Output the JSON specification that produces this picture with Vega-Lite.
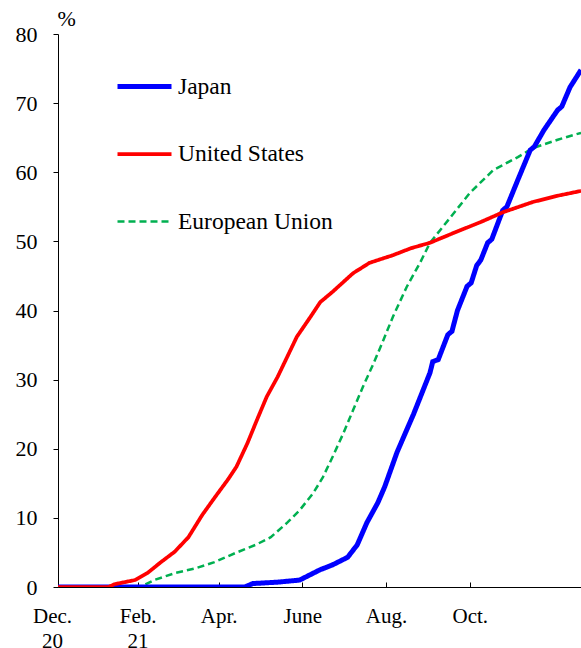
{
  "$schema": "https://vega.github.io/schema/vega-lite/v6.json",
  "width": 523,
  "height": 553,
  "autosize": {"type": "none"},
  "padding": {"left": 58, "top": 34, "right": 0, "bottom": 61},
  "background": "white",
  "config": {"view": {"stroke": null}, "font": "Liberation Serif, Times New Roman, serif"},
  "data": {"values": [
    {"series": "European Union", "date": "2020-12-05", "value": 0},
    {"series": "European Union", "date": "2021-02-03", "value": 0},
    {"series": "European Union", "date": "2021-02-13", "value": 1.0},
    {"series": "European Union", "date": "2021-02-28", "value": 2.0},
    {"series": "European Union", "date": "2021-03-15", "value": 2.7},
    {"series": "European Union", "date": "2021-03-29", "value": 3.6},
    {"series": "European Union", "date": "2021-04-13", "value": 4.9},
    {"series": "European Union", "date": "2021-04-28", "value": 6.1},
    {"series": "European Union", "date": "2021-05-09", "value": 7.2},
    {"series": "European Union", "date": "2021-05-21", "value": 9.3},
    {"series": "European Union", "date": "2021-05-30", "value": 11.1},
    {"series": "European Union", "date": "2021-06-09", "value": 13.6},
    {"series": "European Union", "date": "2021-06-16", "value": 15.9},
    {"series": "European Union", "date": "2021-06-23", "value": 18.8},
    {"series": "European Union", "date": "2021-07-01", "value": 22.3},
    {"series": "European Union", "date": "2021-07-08", "value": 25.6},
    {"series": "European Union", "date": "2021-07-15", "value": 28.9},
    {"series": "European Union", "date": "2021-07-23", "value": 32.4},
    {"series": "European Union", "date": "2021-07-30", "value": 35.7},
    {"series": "European Union", "date": "2021-08-06", "value": 39.1},
    {"series": "European Union", "date": "2021-08-16", "value": 43.4},
    {"series": "European Union", "date": "2021-08-26", "value": 47.0},
    {"series": "European Union", "date": "2021-09-02", "value": 49.8},
    {"series": "European Union", "date": "2021-09-17", "value": 53.5},
    {"series": "European Union", "date": "2021-10-01", "value": 57.0},
    {"series": "European Union", "date": "2021-10-18", "value": 60.3},
    {"series": "European Union", "date": "2021-11-05", "value": 62.2},
    {"series": "European Union", "date": "2021-11-16", "value": 63.5},
    {"series": "European Union", "date": "2021-12-04", "value": 64.7},
    {"series": "European Union", "date": "2021-12-21", "value": 65.7},
    {"series": "Japan", "date": "2020-12-05", "value": 0},
    {"series": "Japan", "date": "2021-04-20", "value": 0},
    {"series": "Japan", "date": "2021-04-26", "value": 0.5},
    {"series": "Japan", "date": "2021-05-14", "value": 0.7},
    {"series": "Japan", "date": "2021-05-30", "value": 1.0},
    {"series": "Japan", "date": "2021-06-14", "value": 2.5},
    {"series": "Japan", "date": "2021-06-23", "value": 3.2},
    {"series": "Japan", "date": "2021-07-04", "value": 4.3},
    {"series": "Japan", "date": "2021-07-11", "value": 6.1},
    {"series": "Japan", "date": "2021-07-18", "value": 9.3},
    {"series": "Japan", "date": "2021-07-26", "value": 12.2},
    {"series": "Japan", "date": "2021-07-31", "value": 14.5},
    {"series": "Japan", "date": "2021-08-09", "value": 19.5},
    {"series": "Japan", "date": "2021-08-21", "value": 25.0},
    {"series": "Japan", "date": "2021-08-26", "value": 27.5},
    {"series": "Japan", "date": "2021-09-02", "value": 31.0},
    {"series": "Japan", "date": "2021-09-04", "value": 32.6},
    {"series": "Japan", "date": "2021-09-08", "value": 32.9},
    {"series": "Japan", "date": "2021-09-15", "value": 36.5},
    {"series": "Japan", "date": "2021-09-18", "value": 37.0},
    {"series": "Japan", "date": "2021-09-22", "value": 40.0},
    {"series": "Japan", "date": "2021-09-29", "value": 43.5},
    {"series": "Japan", "date": "2021-10-02", "value": 44.0},
    {"series": "Japan", "date": "2021-10-06", "value": 46.5},
    {"series": "Japan", "date": "2021-10-09", "value": 47.3},
    {"series": "Japan", "date": "2021-10-14", "value": 49.8},
    {"series": "Japan", "date": "2021-10-17", "value": 50.3},
    {"series": "Japan", "date": "2021-10-25", "value": 54.5},
    {"series": "Japan", "date": "2021-10-28", "value": 55.0},
    {"series": "Japan", "date": "2021-11-05", "value": 58.9},
    {"series": "Japan", "date": "2021-11-14", "value": 63.2},
    {"series": "Japan", "date": "2021-11-17", "value": 63.7},
    {"series": "Japan", "date": "2021-11-24", "value": 66.1},
    {"series": "Japan", "date": "2021-12-04", "value": 69.0},
    {"series": "Japan", "date": "2021-12-07", "value": 69.5},
    {"series": "Japan", "date": "2021-12-13", "value": 72.3},
    {"series": "Japan", "date": "2021-12-21", "value": 74.8},
    {"series": "United States", "date": "2020-12-05", "value": 0},
    {"series": "United States", "date": "2021-01-11", "value": 0},
    {"series": "United States", "date": "2021-01-15", "value": 0.4},
    {"series": "United States", "date": "2021-01-30", "value": 1.0},
    {"series": "United States", "date": "2021-02-08", "value": 2.0},
    {"series": "United States", "date": "2021-02-18", "value": 3.6},
    {"series": "United States", "date": "2021-02-28", "value": 5.1},
    {"series": "United States", "date": "2021-03-10", "value": 7.2},
    {"series": "United States", "date": "2021-03-20", "value": 10.4},
    {"series": "United States", "date": "2021-03-29", "value": 12.9},
    {"series": "United States", "date": "2021-04-08", "value": 15.6},
    {"series": "United States", "date": "2021-04-14", "value": 17.4},
    {"series": "United States", "date": "2021-04-22", "value": 20.8},
    {"series": "United States", "date": "2021-04-29", "value": 24.2},
    {"series": "United States", "date": "2021-05-06", "value": 27.5},
    {"series": "United States", "date": "2021-05-14", "value": 30.4},
    {"series": "United States", "date": "2021-05-21", "value": 33.3},
    {"series": "United States", "date": "2021-05-28", "value": 36.2},
    {"series": "United States", "date": "2021-06-07", "value": 39.1},
    {"series": "United States", "date": "2021-06-14", "value": 41.2},
    {"series": "United States", "date": "2021-06-23", "value": 42.7},
    {"series": "United States", "date": "2021-07-08", "value": 45.4},
    {"series": "United States", "date": "2021-07-20", "value": 46.9},
    {"series": "United States", "date": "2021-08-06", "value": 48.0},
    {"series": "United States", "date": "2021-08-19", "value": 49.0},
    {"series": "United States", "date": "2021-09-02", "value": 49.8},
    {"series": "United States", "date": "2021-09-19", "value": 51.2},
    {"series": "United States", "date": "2021-10-09", "value": 52.8},
    {"series": "United States", "date": "2021-10-25", "value": 54.2},
    {"series": "United States", "date": "2021-11-16", "value": 55.7},
    {"series": "United States", "date": "2021-12-04", "value": 56.6},
    {"series": "United States", "date": "2021-12-21", "value": 57.3}
  ]},
  "mark": {"type": "line", "clip": true},
  "encoding": {
    "x": {
      "field": "date", "type": "temporal",
      "scale": {"domain": [{"year": 2020, "month": 12, "date": 5, "utc": true}, {"year": 2021, "month": 12, "date": 21, "utc": true}], "nice": false},
      "axis": {
        "title": null,
        "values": [
          {"year": 2020, "month": 12, "date": 5, "utc": true},
          {"year": 2021, "month": 2, "date": 1, "utc": true},
          {"year": 2021, "month": 4, "date": 1, "utc": true},
          {"year": 2021, "month": 6, "date": 1, "utc": true},
          {"year": 2021, "month": 8, "date": 1, "utc": true},
          {"year": 2021, "month": 10, "date": 1, "utc": true}
        ],
        "labelExpr": "utcmonth(datum.value) == 11 ? ['Dec.', '20'] : utcmonth(datum.value) == 1 ? ['Feb.', '21'] : utcmonth(datum.value) == 3 ? 'Apr.' : utcmonth(datum.value) == 5 ? 'June' : utcmonth(datum.value) == 7 ? 'Aug.' : 'Oct.'",
        "grid": false,
        "tickSize": -5,
        "tickColor": "black",
        "domainColor": "black",
        "labelColor": "black",
        "labelFont": "Liberation Serif",
        "labelFontSize": 21,
        "labelPadding": 23,
        "labelLineHeight": 25,
        "labelOffset": {"condition": {"test": "utcmonth(datum.value) == 11", "value": -6}, "value": 0},
        "labelFlush": false,
        "labelOverlap": false,
        "labelBound": false
      }
    },
    "y": {
      "field": "value", "type": "quantitative",
      "scale": {"domain": [0, 80], "nice": false},
      "axis": {
        "title": "%",
        "titleAngle": 0,
        "titleX": -1,
        "titleY": -9,
        "titleAlign": "left",
        "titleBaseline": "alphabetic",
        "titleFont": "Liberation Serif",
        "titleFontSize": 22,
        "titleFontWeight": "normal",
        "titleColor": "black",
        "values": [0, 10, 20, 30, 40, 50, 60, 70, 80],
        "grid": false,
        "tickSize": 5,
        "tickColor": "black",
        "domainColor": "black",
        "labelColor": "black",
        "labelFont": "Liberation Serif",
        "labelFontSize": 22,
        "labelPadding": 16
      }
    },
    "color": {
      "field": "series", "type": "nominal",
      "scale": {"domain": ["Japan", "United States", "European Union"], "range": ["#0000FF", "#FF0000", "#00B050"]},
      "legend": {
        "title": null,
        "orient": "none",
        "legendX": 57,
        "legendY": 23,
        "padding": 0,
        "symbolType": "stroke",
        "symbolSize": 2916,
        "labelFont": "Liberation Serif",
        "labelFontSize": 23.5,
        "labelColor": "black",
        "labelOffset": 4,
        "rowPadding": 27
      }
    },
    "strokeDash": {
      "field": "series", "type": "nominal",
      "scale": {"domain": ["Japan", "United States", "European Union"], "range": [[1, 0], [1, 0], [7, 4]]}
    },
    "strokeWidth": {
      "field": "series", "type": "nominal",
      "scale": {"domain": ["Japan", "United States", "European Union"], "range": [5, 2.5, 2.5]}
    }
  }
}
